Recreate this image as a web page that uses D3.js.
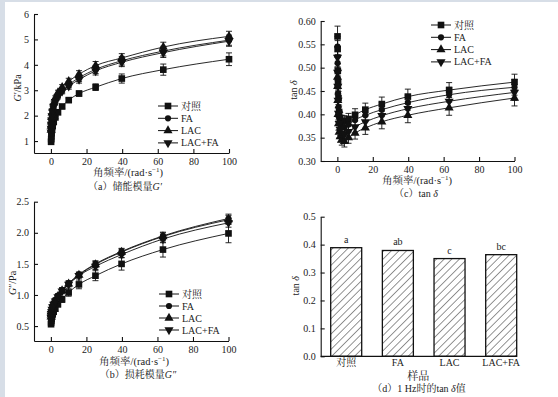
<!DOCTYPE html>
<html>
<head>
<meta charset="utf-8">
<script src="https://cdn.jsdelivr.net/npm/d3@7"></script>
<style>
body { margin: 0; background: #fff; }
svg { display: block; font-family: "Liberation Serif", "Noto Serif CJK SC", "Noto Sans CJK SC", serif; }
</style>
</head>
<body>
<svg id="chart" width="558" height="397"></svg>
<script>
'use strict';

// angular frequency points (rad/s)
const freq = [0.1, 0.158, 0.251, 0.398, 0.631, 1, 1.58, 2.51, 3.98, 6.31, 10, 15.8, 25.1, 39.8, 63.1, 100];
const seriesNames = ['对照', 'FA', 'LAC', 'LAC+FA'];

// (a) G' / kPa
const gpCtrl  = [0.97, 1.08, 1.19, 1.31, 1.44, 1.59, 1.75, 1.93, 2.13, 2.36, 2.61, 2.87, 3.12, 3.46, 3.81, 4.22];
const gpFA    = [1.38, 1.53, 1.69, 1.85, 2.03, 2.21, 2.40, 2.59, 2.80, 3.00, 3.22, 3.49, 3.82, 4.16, 4.54, 4.97];
const gpLAC   = [1.43, 1.59, 1.76, 1.93, 2.11, 2.30, 2.50, 2.70, 2.91, 3.12, 3.35, 3.63, 3.97, 4.27, 4.70, 5.12];
const gpLACFA = [1.35, 1.50, 1.66, 1.82, 1.99, 2.17, 2.36, 2.55, 2.75, 2.96, 3.16, 3.42, 3.76, 4.10, 4.48, 4.93];
const gpErrCtrl = [0.03, 0.03, 0.03, 0.04, 0.04, 0.04, 0.05, 0.05, 0.06, 0.07, 0.08, 0.10, 0.13, 0.18, 0.22, 0.25];
const gpErrMix  = [0.04, 0.04, 0.05, 0.05, 0.06, 0.06, 0.07, 0.08, 0.09, 0.10, 0.12, 0.14, 0.16, 0.17, 0.19, 0.20];

// (b) G'' / Pa
const gppCtrl  = [0.53, 0.56, 0.59, 0.62, 0.65, 0.69, 0.73, 0.78, 0.85, 0.93, 1.04, 1.17, 1.31, 1.50, 1.73, 1.99];
const gppFA    = [0.66, 0.69, 0.72, 0.75, 0.78, 0.82, 0.87, 0.92, 0.99, 1.08, 1.19, 1.33, 1.50, 1.70, 1.95, 2.23];
const gppLAC   = [0.65, 0.68, 0.71, 0.74, 0.77, 0.81, 0.86, 0.91, 0.98, 1.07, 1.18, 1.32, 1.49, 1.69, 1.94, 2.21];
const gppLACFA = [0.64, 0.67, 0.70, 0.73, 0.77, 0.81, 0.85, 0.90, 0.97, 1.06, 1.17, 1.31, 1.46, 1.65, 1.90, 2.16];
const gppErrCtrl = [0.02, 0.02, 0.02, 0.02, 0.03, 0.03, 0.03, 0.04, 0.04, 0.05, 0.06, 0.07, 0.08, 0.10, 0.12, 0.15];
const gppErrMix  = [0.02, 0.02, 0.02, 0.02, 0.02, 0.03, 0.03, 0.03, 0.03, 0.04, 0.04, 0.04, 0.05, 0.05, 0.06, 0.07];

// (c) tan delta
const tdCtrl  = [0.567, 0.540, 0.493, 0.467, 0.435, 0.405, 0.392, 0.386, 0.385, 0.390, 0.399, 0.410, 0.422, 0.438, 0.452, 0.469];
const tdFA    = [0.545, 0.510, 0.475, 0.445, 0.415, 0.393, 0.380, 0.373, 0.372, 0.378, 0.388, 0.398, 0.410, 0.425, 0.442, 0.458];
const tdLAC   = [0.480, 0.460, 0.430, 0.400, 0.380, 0.362, 0.352, 0.346, 0.342, 0.350, 0.360, 0.371, 0.384, 0.398, 0.414, 0.435];
const tdLACFA = [0.522, 0.490, 0.460, 0.430, 0.402, 0.380, 0.367, 0.359, 0.357, 0.363, 0.373, 0.384, 0.397, 0.412, 0.428, 0.447];
const tdErr   = [0.022, 0.018, 0.016, 0.015, 0.014, 0.013, 0.012, 0.012, 0.012, 0.012, 0.013, 0.014, 0.015, 0.016, 0.016, 0.017];

// (d) tan delta at 1 Hz
const barSamples = ['对照', 'FA', 'LAC', 'LAC+FA'];
const barValues  = [0.389, 0.379, 0.350, 0.364];
const barLetters = ['a', 'ab', 'c', 'bc'];

const svg = d3.select('#chart');
const INK = '#111';

// light frame strips of the scanned page
svg.append('rect').attr('x', 0).attr('y', 0).attr('width', 5).attr('height', 397).attr('fill', '#d7dee7');
svg.append('rect').attr('x', 0).attr('y', 0).attr('width', 558).attr('height', 2).attr('fill', '#d7dee7');

const symbols = [
    {type: d3.symbolSquare, size: 44, rot: 0},
    {type: d3.symbolCircle, size: 30, rot: 0},
    {type: d3.symbolTriangle, size: 36, rot: 0},
    {type: d3.symbolTriangle, size: 36, rot: 180}
];

function marker(sel, i, x, y) {
    const s = symbols[i];
    sel.append('path')
        .attr('d', d3.symbol().type(s.type).size(s.size)())
        .attr('transform', 'translate(' + x + ',' + y + ') rotate(' + s.rot + ')')
        .attr('fill', INK);
}

function styleAxis(g) {
    g.attr('font-family', null).attr('font-size', 10);
    g.selectAll('path, line').attr('stroke', INK).attr('stroke-width', 1.1);
    g.selectAll('text').attr('fill', '#222');
}

function freqLabel(g, x, y) {
    const t = g.append('text').attr('x', x).attr('y', y).attr('text-anchor', 'middle')
        .attr('font-size', 10.5).attr('fill', '#222');
    t.append('tspan').text('角频率/(rad·s');
    t.append('tspan').attr('dy', -4).attr('font-size', 7).text('−1');
    t.append('tspan').attr('dy', 4).text(')');
}

function lineChart(o) {
    const g = svg.append('g');
    const x = d3.scaleLinear().domain(o.xDomain).range(o.xRange);
    const y = d3.scaleLinear().domain(o.yDomain).range(o.yRange);

    g.append('g')
        .attr('transform', 'translate(0,' + o.yRange[0] + ')')
        .call(d3.axisBottom(x).tickValues([0, 20, 40, 60, 80, 100]).tickSize(-4).tickSizeOuter(0).tickPadding(5))
        .call(styleAxis);
    g.append('g')
        .attr('transform', 'translate(' + o.xRange[0] + ',0)')
        .call(d3.axisLeft(y).tickValues(o.yTicks).tickFormat(d3.format(o.yFormat))
            .tickSize(-4).tickSizeOuter(0).tickPadding(5))
        .call(styleAxis);

    const line = d3.line()
        .x(function(d) { return x(d[0]); })
        .y(function(d) { return y(d[1]); })
        .curve(d3.curveMonotoneX);

    o.series.forEach(function(vals, i) {
        const pts = freq.map(function(f, k) { return [f, vals[k], o.errors[i][k]]; });
        g.append('path').attr('d', line(pts))
            .attr('fill', 'none').attr('stroke', INK).attr('stroke-width', 0.9);
        pts.forEach(function(p) {
            const px = x(p[0]);
            const y1 = y(p[1] - p[2]);
            const y2 = y(p[1] + p[2]);
            g.append('line').attr('x1', px).attr('x2', px).attr('y1', y1).attr('y2', y2)
                .attr('stroke', INK).attr('stroke-width', 0.9);
            [y1, y2].forEach(function(yy) {
                g.append('line').attr('x1', px - 3).attr('x2', px + 3).attr('y1', yy).attr('y2', yy)
                    .attr('stroke', INK).attr('stroke-width', 0.9);
            });
        });
    });
    o.series.forEach(function(vals, i) {
        freq.forEach(function(f, k) {
            marker(g, i, x(f), y(vals[k]));
        });
    });

    // legend
    seriesNames.forEach(function(name, i) {
        const ly = o.legend.y + i * o.legend.dy;
        g.append('line')
            .attr('x1', o.legend.x).attr('x2', o.legend.x + 20)
            .attr('y1', ly).attr('y2', ly)
            .attr('stroke', INK).attr('stroke-width', 1);
        marker(g, i, o.legend.x + 10, ly);
        g.append('text').attr('x', o.legend.x + 23).attr('y', ly).attr('dy', '0.35em')
            .attr('font-size', 10).attr('fill', '#222').text(name);
    });

    // y title
    const yt = g.append('text')
        .attr('transform', 'translate(' + o.yTitle.x + ',' + o.yTitle.y + ') rotate(-90)')
        .attr('text-anchor', 'middle').attr('dy', '0.35em')
        .attr('font-size', 10).attr('fill', '#222');
    o.yTitle.parts.forEach(function(p) {
        yt.append('tspan').attr('font-style', p[1] ? 'italic' : null).text(p[0]);
    });

    freqLabel(g, o.xTitle.x, o.xTitle.y);

    const cap = g.append('text').attr('x', o.caption.x).attr('y', o.caption.y)
        .attr('text-anchor', 'middle').attr('dy', '0.35em')
        .attr('font-size', 10).attr('fill', '#222');
    o.caption.parts.forEach(function(p) {
        cap.append('tspan').attr('font-style', p[1] ? 'italic' : null).text(p[0]);
    });
}

// (a) storage modulus
lineChart({
    xDomain: [-9.5, 100], xRange: [34, 229],
    yDomain: [0.53, 6], yRange: [153, 14],
    yTicks: [1, 2, 3, 4, 5, 6], yFormat: 'd',
    series: [gpCtrl, gpFA, gpLAC, gpLACFA],
    errors: [gpErrCtrl, gpErrMix, gpErrMix, gpErrMix],
    legend: {x: 158, y: 106, dy: 12.3},
    yTitle: {x: 17, y: 88, parts: [['G', true], ['′/kPa', false]]},
    xTitle: {x: 128, y: 176},
    caption: {x: 125, y: 186, parts: [['（a）储能模量', false], ['G′', true]]}
});

// (c) tan delta vs frequency
lineChart({
    xDomain: [-9.4, 100], xRange: [320.7, 514.5],
    yDomain: [0.3, 0.6], yRange: [161, 21],
    yTicks: [0.30, 0.35, 0.40, 0.45, 0.50, 0.55, 0.60], yFormat: '.2f',
    series: [tdCtrl, tdFA, tdLAC, tdLACFA],
    errors: [tdErr, tdErr, tdErr, tdErr],
    legend: {x: 431, y: 25, dy: 12.3},
    yTitle: {x: 293, y: 90, parts: [['tan ', false], ['δ', true]]},
    xTitle: {x: 417, y: 184},
    caption: {x: 416, y: 193.5, parts: [['（c）tan ', false], ['δ', true]]}
});

// (b) loss modulus
lineChart({
    xDomain: [-9.5, 100], xRange: [34, 228.5],
    yDomain: [0.26, 2.5], yRange: [341, 201.7],
    yTicks: [0.5, 1.0, 1.5, 2.0, 2.5], yFormat: '.1f',
    series: [gppCtrl, gppFA, gppLAC, gppLACFA],
    errors: [gppErrCtrl, gppErrMix, gppErrMix, gppErrMix],
    legend: {x: 159, y: 294, dy: 12},
    yTitle: {x: 12, y: 283, parts: [['G', true], ['″/Pa', false]]},
    xTitle: {x: 134, y: 364.5},
    caption: {x: 138, y: 374, parts: [['（b）损耗模量', false], ['G″', true]]}
});

// (d) bar chart
(function() {
    const g = svg.append('g');
    const hatch = svg.append('defs').append('pattern')
        .attr('id', 'hatch')
        .attr('patternUnits', 'userSpaceOnUse')
        .attr('width', 5.4).attr('height', 5.4)
        .attr('patternTransform', 'rotate(45)');
    hatch.append('rect').attr('width', 5.4).attr('height', 5.4).attr('fill', '#fff');
    hatch.append('line').attr('x1', 0).attr('y1', 0).attr('x2', 0).attr('y2', 5.4)
        .attr('stroke', INK).attr('stroke-width', 0.9);

    const x = d3.scaleBand().domain(barSamples).range([330.7, 516.7]).paddingInner(0.4).paddingOuter(0);
    const y = d3.scaleLinear().domain([0, 0.5]).range([356.3, 216.7]);

    g.selectAll('rect.bar').data(barValues).enter().append('rect')
        .attr('class', 'bar')
        .attr('x', function(d, i) { return x(barSamples[i]); })
        .attr('y', function(d) { return y(d); })
        .attr('width', x.bandwidth())
        .attr('height', function(d) { return y(0) - y(d); })
        .attr('fill', 'url(#hatch)')
        .attr('stroke', INK).attr('stroke-width', 1.3);

    g.selectAll('text.sig').data(barValues).enter().append('text')
        .attr('class', 'sig')
        .attr('x', function(d, i) { return x(barSamples[i]) + x.bandwidth() / 2; })
        .attr('y', function(d) { return y(d) - 5; })
        .attr('text-anchor', 'middle').attr('font-size', 10).attr('fill', '#222')
        .text(function(d, i) { return barLetters[i]; });

    g.append('g')
        .attr('transform', 'translate(320.7,0)')
        .call(d3.axisLeft(y).tickValues([0, 0.1, 0.2, 0.3, 0.4, 0.5]).tickFormat(d3.format('.1f'))
            .tickSize(-4).tickSizeOuter(0).tickPadding(5))
        .call(styleAxis);

    const xa = g.append('g')
        .attr('transform', 'translate(0,356.3)')
        .call(d3.axisBottom(x).tickSize(0).tickPadding(3))
        .call(styleAxis);
    xa.select('.domain').remove();
    g.append('line').attr('x1', 320.7).attr('x2', 516.7).attr('y1', 356.3).attr('y2', 356.3)
        .attr('stroke', INK).attr('stroke-width', 1.3);

    g.append('text')
        .attr('transform', 'translate(295.7,285.7) rotate(-90)')
        .attr('text-anchor', 'middle').attr('dy', '0.35em')
        .attr('font-size', 10).attr('fill', '#222')
        .call(function(t) {
            t.append('tspan').text('tan ');
            t.append('tspan').attr('font-style', 'italic').text('δ');
        });

    g.append('text').attr('x', 418.3).attr('y', 376).attr('dy', '0.35em')
        .attr('text-anchor', 'middle').attr('font-size', 11).attr('fill', '#222').text('样品');

    const cap = g.append('text').attr('x', 419).attr('y', 388.5).attr('dy', '0.35em')
        .attr('text-anchor', 'middle').attr('font-size', 10).attr('fill', '#222');
    cap.append('tspan').text('（d）1 Hz时的tan ');
    cap.append('tspan').attr('font-style', 'italic').text('δ');
    cap.append('tspan').text('值');
})();
</script>
</body>
</html>
